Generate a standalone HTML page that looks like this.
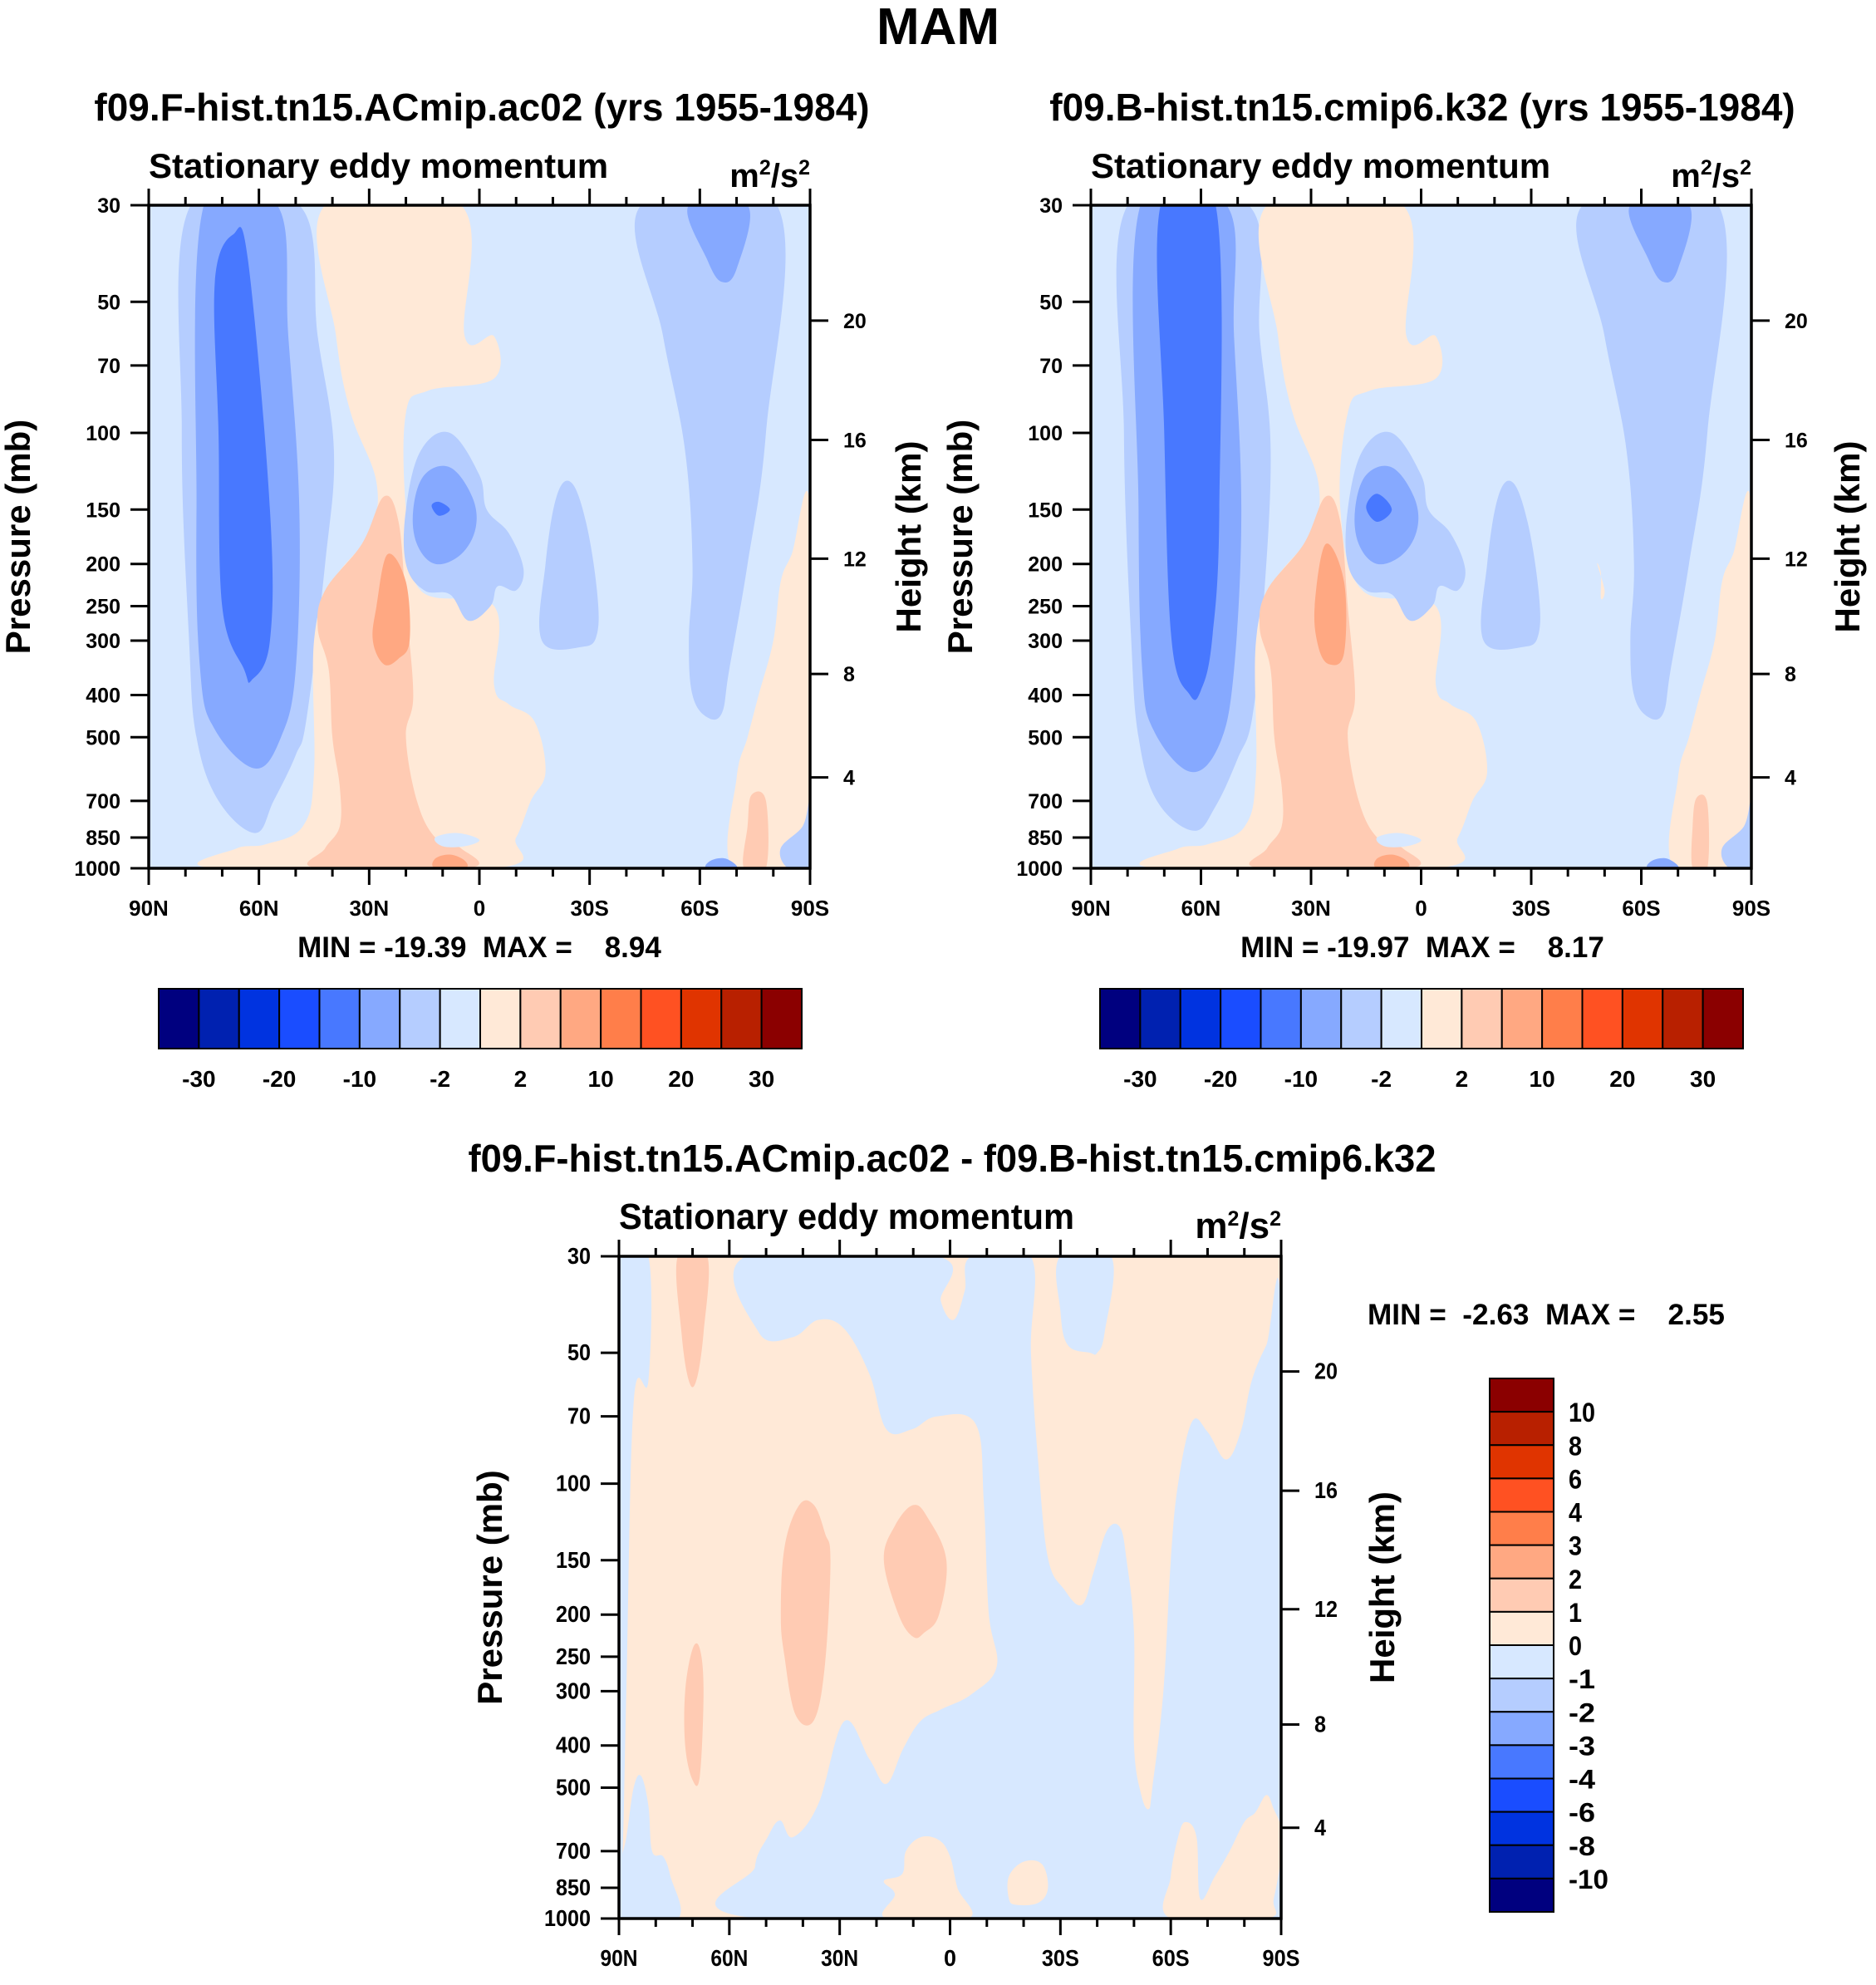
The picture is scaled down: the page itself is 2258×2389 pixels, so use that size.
<!DOCTYPE html>
<html><head><meta charset="utf-8"><style>
html,body{margin:0;padding:0;background:#fff;}
svg text{font-family:"Liberation Sans",Arial,sans-serif;font-weight:bold;fill:#000;white-space:pre;}
</style></head><body>
<svg id="fig" xmlns="http://www.w3.org/2000/svg" width="2258" height="2384" viewBox="0 0 2258 2384">
<rect width="2258" height="2384" fill="#fff"/>
<text x="1129" y="53" font-size="62" text-anchor="middle">MAM</text>
</svg>
<script>
const colors=['#00007f','#0021b0','#0033e0','#1a4dff','#4878ff','#86a9ff','#b5cdff','#d7e8ff','#ffe9d7','#ffcbb3','#ffa882','#ff7e4a','#ff5122','#e03400','#b82000','#8b0000'];
const latTicksMajor=[90,60,30,0,-30,-60,-90];
const latLabels=['90N','60N','30N','0','30S','60S','90S'];
const latTicksMinor=[80,70,50,40,20,10,-10,-20,-40,-50,-70,-80];
const presTicks=[30,50,70,100,150,200,250,300,400,500,700,850,1000];
const hgtTicks=[4,8,12,16,20];
const hgtFrac=[0.863,0.707,0.533,0.354,0.174];
const cbLabels1=['-30','-20','-10','-2','2','10','20','30'];
const cbLabels3=['10','8','6','4','3','2','1','0','-1','-2','-3','-4','-6','-8','-10'];

const p1bg=7;
const p1layers=[
[6,[[78.6,30],[81,100],[79,300],[77,500],[71,700],[61,830],[56,700],[50,550],[47,450],[42,200],[39.6,110],[44,60],[49,30]]],
[5,[[75,30],[77,150],[76,350],[72,480],[61,590],[54,500],[50,350],[49,150],[52,60],[55,30]]],
[4,[[72,45],[67,35],[63,40],[57,150],[57,300],[62,370],[64,350],[70,250],[71,100]]],
[8,[[42,30],[5,30],[4,60],[-4,60],[-4,75],[14,80],[20,90],[20,150],[16,230],[-4,250],[-4,380],[-8,420],[-15,460],[-18,600],[-14,700],[-10,850],[-4,1000],[72,1000],[66,900],[58,880],[48,800],[45,600],[45,300],[40,220],[30,170],[28,130],[35,90],[39,60]]],
[9,[[44,280],[42,230],[32,180],[26,140],[22,160],[20,250],[18,400],[20,500],[17,700],[12,850],[5,900],[3,1000],[44,1000],[42,900],[38,800],[38,650],[40,500],[41,350]]],
[10,[[25,190],[28,250],[29,300],[26,340],[22,330],[19,300],[20,220]]],
[10,[[12,950],[8,930],[4,960],[4,1000],[12,1000]]],
[7,[[12,850],[6,830],[0,860],[4,890],[10,890]]],
[6,[[20,150],[16,110],[8,100],[0,125],[-2,150],[-8,170],[-12,205],[-10,230],[-5,225],[-3,250],[3,270],[8,235],[15,230],[20,200]]],
[5,[[18,150],[15,125],[8,120],[2,140],[1,165],[5,190],[12,200],[17,180]]],
[4,[[13,147],[11,144],[8,150],[11,155]]],
[6,[[-17,300],[-18,200],[-21,140],[-25,130],[-29,160],[-32,230],[-32,290],[-28,310]]],
[6,[[-44,30],[-81,30],[-78,100],[-73,200],[-68,350],[-66,440],[-62,450],[-58,400],[-57,300],[-58,200],[-56,110],[-50,60]]],
[5,[[-57,30],[-73,30],[-70,42],[-66,45],[-62,40]]],
[8,[[-90,150],[-85,190],[-82,220],[-80,300],[-76,400],[-73,500],[-70,620],[-69,1000],[-90,1000]]],
[9,[[-74,680],[-78,700],[-78,1000],[-72,1000],[-73,800]]],
[5,[[-63,960],[-67,950],[-70,1000],[-62,1000]]],
[6,[[-82,900],[-88,800],[-90,700],[-90,1000],[-84,1000]]]
];
const p2layers=[
[6,[[80,30],[81,100],[79,300],[77,500],[72,700],[62,820],[56,720],[50,560],[46,450],[43,250],[41,110],[44,60],[47,30]]],
[5,[[76.5,30],[77,150],[76,350],[73,480],[63,600],[55,520],[51,350],[49,150],[51,60],[53,30]]],
[4,[[71,30],[56,30],[55,150],[57,300],[60,390],[63,400],[68,300],[70,100]]],
[8,[[42,30],[5,30],[4,60],[-4,60],[-4,75],[14,80],[20,90],[22,150],[16,230],[-4,250],[-4,380],[-8,420],[-15,460],[-18,600],[-14,700],[-10,850],[-4,1000],[72,1000],[66,900],[58,880],[48,800],[45,600],[45,300],[40,220],[30,170],[28,130],[35,90],[39,60]]],
[9,[[44,280],[42,230],[32,180],[26,140],[22,160],[20,250],[18,400],[20,500],[17,700],[12,850],[5,900],[3,1000],[44,1000],[42,900],[38,800],[38,650],[40,500],[41,350]]],
[10,[[26,180],[29,250],[28,310],[25,340],[21,320],[21,220]]],
[10,[[12,950],[8,930],[4,960],[4,1000],[12,1000]]],
[7,[[12,850],[6,830],[0,860],[4,890],[10,890]]],
[6,[[20,150],[16,110],[8,100],[0,125],[-2,150],[-8,170],[-12,205],[-10,230],[-5,225],[-3,250],[3,270],[8,235],[15,230],[20,200]]],
[5,[[18,150],[15,125],[8,120],[2,140],[1,165],[5,190],[12,200],[17,180]]],
[4,[[15,148],[12,138],[8,150],[12,160]]],
[6,[[-17,300],[-18,200],[-21,140],[-25,130],[-29,160],[-32,230],[-32,290],[-28,310]]],
[8,[[-49,210],[-48,200],[-50,230],[-49,240]]],
[6,[[-44,30],[-81,30],[-78,100],[-73,200],[-68,350],[-66,440],[-62,450],[-58,400],[-57,300],[-58,200],[-56,110],[-50,60]]],
[5,[[-57,30],[-73,30],[-70,42],[-66,45],[-62,40]]],
[8,[[-90,150],[-85,190],[-82,220],[-80,300],[-76,400],[-73,500],[-70,620],[-69,1000],[-90,1000]]],
[9,[[-75,690],[-78,710],[-78,1000],[-74,1000],[-74,800]]],
[5,[[-63,960],[-67,950],[-70,1000],[-62,1000]]],
[6,[[-82,900],[-88,800],[-90,700],[-90,1000],[-84,1000]]]
];
const p3bg=8;
const p3layers=[
[7,[[90,30],[82,30],[82,58],[86,65],[88,300],[89,700],[90,700]]],
[7,[[55.4,30],[3.5,30],[2.5,38],[-1,42],[-4,36],[-5.8,30],[-21.9,30],[-22,50],[-24,90],[-26.6,148],[-31,175],[-35.8,190],[-39,160],[-42.7,128],[-46.2,126],[-48,150],[-50,220],[-50,400],[-52,520],[-54,560],[-55,500],[-58,300],[-60,150],[-62,100],[-65.8,72],[-70,76],[-75,88],[-79,76],[-82,58],[-86,48],[-90,42],[-90,1000],[52,1000],[53,760],[49.6,650],[46.2,595],[42.7,650],[35.8,545],[28.8,352],[21.9,430],[17.3,490],[12.7,406],[8.1,352],[2.3,330],[-5.8,305],[-12.7,263],[-10.5,198],[-9.2,111],[-7,73],[3.5,70],[10.4,75],[17.3,75],[21.9,56],[28.8,44],[35.8,42],[42.7,46],[51.9,45]]],
[7,[[-30,30],[-43.8,30],[-42,45],[-40,50],[-38,50],[-32,48],[-30,40]]],
[7,[[90,780],[88,650],[86,500],[84,470],[82,550],[81,700],[78,720],[76,800],[74,1000],[90,1000]]],
[8,[[17.3,1000],[15,880],[18,820],[13,790],[12,700],[8,650],[3,660],[0,720],[-2,850],[-5,1000]]],
[8,[[-16,900],[-16,800],[-20,740],[-25,750],[-26.6,850],[-24,920],[-18,930]]],
[8,[[-60,1000],[-60,800],[-62,650],[-64,600],[-67,650],[-68,900],[-72,800],[-76,700],[-80,600],[-83,570],[-86,520],[-88,560],[-90,620],[-90,720],[-88,900],[-86,1000]]],
[9,[[74,30],[66,30],[67,45],[69,58],[71,58],[73,45]]],
[9,[[70,240],[68,240],[67,300],[68,470],[70,480],[72,400],[72,300]]],
[9,[[37,112],[34,130],[32.5,150],[34,260],[37,350],[42,340],[45,250],[46,200],[45,140],[41,112]]],
[9,[[10,112],[6,120],[1,150],[3,200],[7,220],[10,225],[14,200],[18,150],[15,125]]]
];

const NS='http://www.w3.org/2000/svg';
const svg=document.getElementById('fig');
function mk(tag,attrs,parent,txt){const e=document.createElementNS(NS,tag);for(const k in attrs)e.setAttribute(k,attrs[k]);if(txt!==undefined)e.textContent=txt;(parent||svg).appendChild(e);return e;}
function smooth(P){
  const n=P.length;let d='M'+P[0][0].toFixed(1)+','+P[0][1].toFixed(1);
  for(let i=0;i<n;i++){
    const p0=P[(i-1+n)%n],p1=P[i],p2=P[(i+1)%n],p3=P[(i+2)%n];
    const t=0.18;
    const c1=[p1[0]+(p2[0]-p0[0])*t,p1[1]+(p2[1]-p0[1])*t];
    const c2=[p2[0]-(p3[0]-p1[0])*t,p2[1]-(p3[1]-p1[1])*t];
    d+='C'+c1[0].toFixed(1)+','+c1[1].toFixed(1)+' '+c2[0].toFixed(1)+','+c2[1].toFixed(1)+' '+p2[0].toFixed(1)+','+p2[1].toFixed(1);
  }
  return d+'Z';
}
function condense(t,len){t.setAttribute('textLength',String(len));t.setAttribute('lengthAdjust','spacingAndGlyphs');}

function panel(id,x0,y0,w,h,bg,layers,title,titleX,titleY,condensed,presTitleX,hgtTitleX){
  const g=mk('g',{});
  
  
  const X=lat=>x0+(90-lat)/180*w;
  const Y=p=>y0+Math.log10(p/30)/Math.log10(1000/30)*h;
  const cp=mk('clipPath',{id:id+'-clip'},g);mk('rect',{x:x0,y:y0,width:w,height:h},cp);
  const field=mk('g',{'clip-path':'url(#'+id+'-clip)'},g);
  
  
  const bgr=mk('rect',{x:x0,y:y0,width:w,height:h,fill:colors[bg]},field);
  
  
  layers.forEach(L=>{
    const pts=L[1].map(q=>[X(q[0]),Y(q[1])]);
    const pg=mk('path',{d:smooth(pts),fill:colors[L[0]]},field);
    
    
  });
  const fr=mk('rect',{x:x0,y:y0,width:w,height:h,fill:'none',stroke:'#000','stroke-width':3.5},g);
  
  
  const tk=mk('g',{stroke:'#000','stroke-width':3},g);
  latTicksMajor.forEach((lat,i)=>{
    const x=X(lat);
    mk('line',{x1:x,y1:y0,x2:x,y2:y0-20},tk);
    mk('line',{x1:x,y1:y0+h,x2:x,y2:y0+h+20},tk);
    const t=mk('text',{x:x,y:y0+h+57,'font-size':condensed?28:26,'text-anchor':'middle'},g,latLabels[i]);
    if(condensed)condense(t,latLabels[i].length*15);
    
    
  });
  latTicksMinor.forEach(lat=>{const x=X(lat);mk('line',{x1:x,y1:y0,x2:x,y2:y0-10},tk);mk('line',{x1:x,y1:y0+h,x2:x,y2:y0+h+10},tk);});
  presTicks.forEach(p=>{
    const y=Y(p);mk('line',{x1:x0,y1:y,x2:x0-22,y2:y},tk);
    const t=mk('text',{x:x0-34,y:y+9,'font-size':condensed?28:25,'text-anchor':'end'},g,String(p));
    if(condensed)condense(t,String(p).length*14);
    
    
  });
  hgtTicks.forEach((z,i)=>{
    const y=y0+hgtFrac[i]*h;mk('line',{x1:x0+w,y1:y,x2:x0+w+22,y2:y},tk);
    const t=mk('text',{x:x0+w+40,y:y+9,'font-size':condensed?28:25},g,String(z));
    if(condensed)condense(t,String(z).length*14);
    
    
  });
  const pt=mk('text',{x:presTitleX,y:y0+h/2,'font-size':42,'text-anchor':'middle',transform:'rotate(-90 '+presTitleX+' '+(y0+h/2)+')'},g,'Pressure (mb)');
  
  
  const ht=mk('text',{x:hgtTitleX,y:y0+h/2,'font-size':42,'text-anchor':'middle',transform:'rotate(-90 '+hgtTitleX+' '+(y0+h/2)+')'},g,'Height (km)');
  
  
  const st=mk('text',{x:x0,y:y0-33,'font-size':condensed?44:42},g,'Stationary eddy momentum');
  
  
  if(condensed)condense(st,548);
  const un=mk('text',{x:x0+w,y:y0-22,'font-size':condensed?44:40,'text-anchor':'end'},g);
  
  
  mk('tspan',{},un,'m');mk('tspan',{dy:-15,'font-size':25},un,'2');mk('tspan',{dy:15},un,'/s');mk('tspan',{dy:-15,'font-size':25},un,'2');
  const tt=mk('text',{x:titleX,y:titleY,'font-size':46,'text-anchor':'middle'},g,title);
  
  
  if(condensed)condense(tt,1165);
  return g;
}
panel('panel-f-hist',179,247,796,798,p1bg,p1layers,'f09.F-hist.tn15.ACmip.ac02 (yrs 1955-1984)',580,145,false,36,1108);
panel('panel-b-hist',1313,247,795,798,p1bg,p2layers,'f09.B-hist.tn15.cmip6.k32 (yrs 1955-1984)',1712,145,false,1170,2238);
panel('panel-diff',745,1512,797,797,p3bg,p3layers,'f09.F-hist.tn15.ACmip.ac02 - f09.B-hist.tn15.cmip6.k32',1146,1410,true,604,1678);

function minmax(x,y,txt,name,len){const t=mk('text',{x:x,y:y,'font-size':35,'text-anchor':'middle'},svg,txt);
  if(len)condense(t,len);
  
  }
minmax(577,1152,'MIN = -19.39  MAX =    8.94','min-max-left');
minmax(1712,1152,'MIN = -19.97  MAX =    8.17','min-max-right');
minmax(1861,1594,'MIN =  -2.63  MAX =    2.55','min-max-diff',430);

function hbar(x0,name){
  const g=mk('g',{});
  
  
  const w=774/16;
  colors.forEach((c,i)=>{const r=mk('rect',{x:x0+i*w,y:1190,width:w,height:72,fill:c,stroke:'#000','stroke-width':2},g);
    
    });
  cbLabels1.forEach((l,i)=>{const t=mk('text',{x:x0+(2*i+1)*w,y:1308,'font-size':28,'text-anchor':'middle'},g,l);
    
    });
}
hbar(191,'colorbar-left');hbar(1324,'colorbar-right');
(function(){
  const g=mk('g',{});
  
  
  const hh=642/16;
  colors.slice().reverse().forEach((c,i)=>{const r=mk('rect',{x:1793,y:1659+i*hh,width:77,height:hh,fill:c,stroke:'#000','stroke-width':2},g);
    
    });
  cbLabels3.forEach((l,i)=>{const t=mk('text',{x:1888,y:1659+(i+1)*hh+12,'font-size':32},g,l);
    condense(t,l.length*16);
    
    });
})();
</script>
</body></html>
